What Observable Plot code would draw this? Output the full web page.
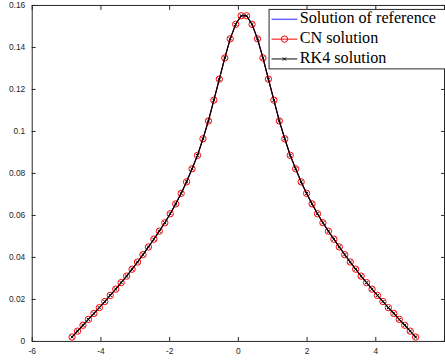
<!DOCTYPE html>
<html>
<head>
<meta charset="utf-8">
<script src="https://cdn.jsdelivr.net/npm/d3@7"></script>
<script src="https://cdn.jsdelivr.net/npm/@observablehq/plot@0.6"></script>
<style>
  html, body { margin: 0; padding: 0; background: #fff; }
  #chart { width: 445px; height: 360px; overflow: hidden; position: relative; }
</style>
</head>
<body>
<div id="chart"></div>
<script>
// Spatial grid (64 nodes)
const xGrid = [
  -4.840, -4.681, -4.523, -4.364, -4.205, -4.046, -3.888, -3.729,
  -3.570, -3.411, -3.253, -3.094, -2.935, -2.776, -2.618, -2.459,
  -2.300, -2.141, -1.983, -1.824, -1.665, -1.507, -1.348, -1.189,
  -1.030, -0.872, -0.713, -0.554, -0.395, -0.237, -0.078, 0.081,
  0.240, 0.399, 0.557, 0.716, 0.875, 1.034, 1.192, 1.351,
  1.510, 1.668, 1.827, 1.986, 2.145, 2.303, 2.462, 2.621,
  2.780, 2.938, 3.097, 3.256, 3.414, 3.573, 3.732, 3.891,
  4.049, 4.208, 4.367, 4.526, 4.684, 4.843, 5.002, 5.160
];

// Reference solution at the grid nodes
const refSolution = [
  0.0021, 0.0049, 0.0077, 0.0105, 0.0133, 0.0161, 0.0190, 0.0219,
  0.0249, 0.0280, 0.0311, 0.0344, 0.0378, 0.0413, 0.0450, 0.0487,
  0.0525, 0.0565, 0.0608, 0.0655, 0.0705, 0.0760, 0.0822, 0.0886,
  0.0965, 0.1050, 0.1149, 0.1249, 0.1350, 0.1441, 0.1510, 0.1551,
  0.1551, 0.1510, 0.1441, 0.1350, 0.1249, 0.1149, 0.1050, 0.0965,
  0.0886, 0.0822, 0.0760, 0.0705, 0.0655, 0.0608, 0.0565, 0.0525,
  0.0487, 0.0450, 0.0413, 0.0378, 0.0344, 0.0311, 0.0280, 0.0249,
  0.0219, 0.0190, 0.0161, 0.0133, 0.0105, 0.0077, 0.0049, 0.0021
];

// Crank–Nicolson solution
const cnSolution = [
  0.0021, 0.0049, 0.0077, 0.0105, 0.0133, 0.0161, 0.0190, 0.0219,
  0.0249, 0.0280, 0.0311, 0.0344, 0.0378, 0.0413, 0.0450, 0.0487,
  0.0525, 0.0565, 0.0608, 0.0655, 0.0705, 0.0760, 0.0822, 0.0886,
  0.0965, 0.1050, 0.1149, 0.1249, 0.1350, 0.1441, 0.1510, 0.1551,
  0.1551, 0.1510, 0.1441, 0.1350, 0.1249, 0.1149, 0.1050, 0.0965,
  0.0886, 0.0822, 0.0760, 0.0705, 0.0655, 0.0608, 0.0565, 0.0525,
  0.0487, 0.0450, 0.0413, 0.0378, 0.0344, 0.0311, 0.0280, 0.0249,
  0.0219, 0.0190, 0.0161, 0.0133, 0.0105, 0.0077, 0.0049, 0.0021
];

// Runge–Kutta 4 solution
const rk4Solution = [
  0.0021, 0.0049, 0.0077, 0.0105, 0.0133, 0.0161, 0.0190, 0.0219,
  0.0249, 0.0280, 0.0311, 0.0344, 0.0378, 0.0413, 0.0450, 0.0487,
  0.0525, 0.0565, 0.0608, 0.0655, 0.0705, 0.0760, 0.0822, 0.0886,
  0.0965, 0.1050, 0.1149, 0.1249, 0.1350, 0.1441, 0.1510, 0.1551,
  0.1551, 0.1510, 0.1441, 0.1350, 0.1249, 0.1149, 0.1050, 0.0965,
  0.0886, 0.0822, 0.0760, 0.0705, 0.0655, 0.0608, 0.0565, 0.0525,
  0.0487, 0.0450, 0.0413, 0.0378, 0.0344, 0.0311, 0.0280, 0.0249,
  0.0219, 0.0190, 0.0161, 0.0133, 0.0105, 0.0077, 0.0049, 0.0021
];

const xTicks = [-6, -4, -2, 0, 2, 4, 6];
const xTickLabels = [-6, -4, -2, 0, 2, 4];
const yTicks = [0, 0.02, 0.04, 0.06, 0.08, 0.1, 0.12, 0.14, 0.16];
const seriesNames = ["Solution of reference", "CN solution", "RK4 solution"];

const rows = xGrid.map((x, i) => ({
  x, ref: refSolution[i], cn: cnSolution[i], rk4: rk4Solution[i]
}));

const axisColor = "#262626";
const fmtY = d => String(+d.toFixed(2));

const chart = Plot.plot({
  width: 449,
  height: 360,
  marginLeft: 32,
  marginRight: 1,
  marginTop: 5,
  marginBottom: 16,
  style: {
    fontFamily: "'Liberation Sans', Arial, sans-serif",
    fontSize: "8.5px",
    color: axisColor,
    background: "white"
  },
  x: { domain: [-6, 6] },
  y: { domain: [0, 0.16] },
  marks: [
    Plot.frame({ stroke: axisColor, strokeWidth: 1 }),
    // inward tick marks on all four sides
    Plot.axisX({ anchor: "bottom", ticks: xTicks, tickSize: -4, text: null, label: null, stroke: axisColor }),
    Plot.axisX({ anchor: "bottom", ticks: xTickLabels, tickSize: 0, tickPadding: 7, tickFormat: d => String(d), label: null }),
    Plot.axisX({ anchor: "top", ticks: xTicks, tickSize: -4, text: null, label: null, stroke: axisColor }),
    Plot.axisY({ anchor: "left", ticks: yTicks, tickSize: -4, tickPadding: 11, tickFormat: fmtY, label: null, stroke: axisColor }),
    Plot.axisY({ anchor: "right", ticks: yTicks, tickSize: -4, text: null, label: null, stroke: axisColor }),
    // solution curves
    Plot.line(rows, { x: "x", y: "ref", stroke: "#0000ff", strokeWidth: 1 }),
    Plot.line(rows, { x: "x", y: "cn", stroke: "#ff0000", strokeWidth: 1 }),
    Plot.dot(rows, { x: "x", y: "cn", r: 3.2, stroke: "#ff0000", strokeWidth: 1, fill: "none" }),
    Plot.line(rows, { x: "x", y: "rk4", stroke: "#000000", strokeWidth: 1.2 }),
    Plot.dot(rows, { x: "x", y: "rk4", symbol: "times", r: 1.5, stroke: "#000000", strokeWidth: 1, fill: "none" })
  ]
});

// Legend box in the upper-right corner of the axes
const svg = d3.select(chart);
const legend = svg.append("g").attr("class", "legend").attr("text-anchor", "start");
legend.append("rect")
  .attr("x", 271.5).attr("y", 9.5)
  .attr("width", 190).attr("height", 60)
  .attr("fill", "white").attr("stroke", axisColor).attr("stroke-width", 1);

const entryStyles = [
  { stroke: "#0000ff", marker: null },
  { stroke: "#ff0000", marker: "circle" },
  { stroke: "#000000", marker: "times" }
];
seriesNames.forEach((name, i) => {
  const cy = 19.5 + i * 20;
  const st = entryStyles[i];
  legend.append("line")
    .attr("x1", 274).attr("x2", 300).attr("y1", cy).attr("y2", cy)
    .attr("stroke", st.stroke).attr("stroke-opacity", i === 0 ? 0.6 : 1)
    .attr("stroke-width", i === 0 ? 1.5 : 1);
  if (st.marker === "circle") {
    legend.append("circle").attr("cx", 287).attr("cy", cy).attr("r", 3.2)
      .attr("fill", "none").attr("stroke", st.stroke).attr("stroke-width", 1);
  } else if (st.marker === "times") {
    const s = 1.6;
    legend.append("path")
      .attr("d", `M${287 - s},${cy - s}L${287 + s},${cy + s}M${287 - s},${cy + s}L${287 + s},${cy - s}`)
      .attr("stroke", st.stroke).attr("stroke-width", 1);
  }
  legend.append("text")
    .attr("x", 302.5).attr("y", cy + 4)
    .style("font-family", "'Liberation Serif', 'Times New Roman', serif")
    .style("font-size", "16.3px")
    .style("fill", "#000")
    .text(name);
});

document.getElementById("chart").appendChild(chart);
</script>
</body>
</html>
